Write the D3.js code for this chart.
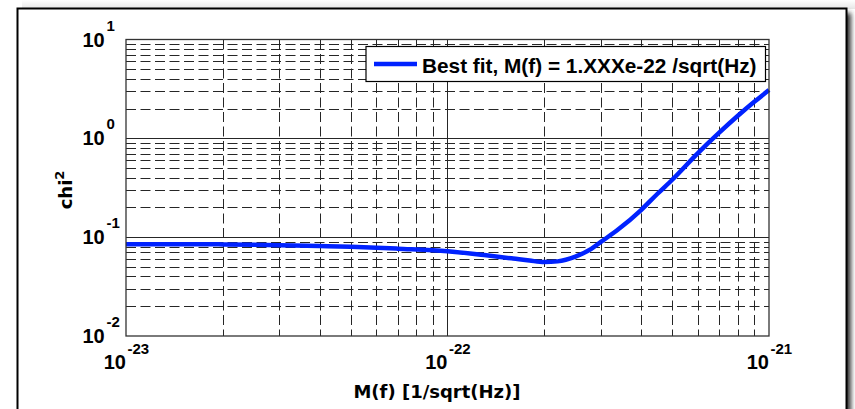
<!DOCTYPE html>
<html>
<head>
<meta charset="utf-8">
<script src="https://cdn.jsdelivr.net/npm/d3@7"></script>
<style>
  html, body { margin: 0; padding: 0; background: #ffffff; }
  svg { display: block; font-family: "Liberation Sans", Arial, sans-serif; font-weight: bold; }
  .title { font-family: "DejaVu Sans", Verdana, sans-serif; }
</style>
</head>
<body>
<svg id="chart" width="855" height="409"></svg>
<script>
// Mass parameter M(f) in 1/sqrt(Hz)
const massValues = [1e-23, 1.5e-23, 2e-23, 3e-23, 4e-23, 5e-23, 7e-23, 1e-22, 1.3e-22, 1.6e-22,
  1.8e-22, 2e-22, 2.2e-22, 2.5e-22, 2.8e-22, 3e-22, 3.4e-22, 4e-22, 4.5e-22, 5e-22,
  6e-22, 7e-22, 8e-22, 9e-22, 1e-21];
// chi^2 of the fit at each mass value
const chi2Values = [0.085, 0.085, 0.0845, 0.083, 0.0815, 0.080, 0.0765, 0.0722, 0.0659, 0.0608,
  0.0580, 0.0560, 0.0569, 0.0636, 0.0762, 0.0895, 0.120, 0.188, 0.275, 0.381,
  0.704, 1.14, 1.69, 2.34, 3.08];
const xTickExponents = [-23, -22, -21];
const yTickExponents = [-2, -1, 0, 1];
const legendLabel = "Best fit, M(f) = 1.XXXe-22 /sqrt(Hz)";
const xAxisLabel = "M(f) [1/sqrt(Hz)]";
const yAxisLabel = "chi";
const yAxisLabelSup = "2";

const svg = d3.select("#chart");
const W = 855, H = 409;
const plot = { left: 126, top: 39.5, right: 769, bottom: 336 };

// drop shadow behind the frame
const defs = svg.append("defs");
const blur = defs.append("filter").attr("id", "shadow").attr("x", "-5%").attr("y", "-5%").attr("width", "110%").attr("height", "110%");
blur.append("feGaussianBlur").attr("stdDeviation", 2.5);
const topGrad = defs.append("linearGradient").attr("id", "topfade").attr("x1", 0).attr("y1", 0).attr("x2", 0).attr("y2", 1);
topGrad.append("stop").attr("offset", 0).attr("stop-color", "#ffffff");
topGrad.append("stop").attr("offset", 1).attr("stop-color", "#e6e6e6");

svg.append("rect").attr("x", 22).attr("y", 0).attr("width", W - 22).attr("height", 9).attr("fill", "url(#topfade)");
svg.append("rect").attr("x", 22).attr("y", 13).attr("width", 829).attr("height", 420)
  .attr("fill", "#333").attr("filter", "url(#shadow)");
svg.append("rect").attr("x", 17.5).attr("y", 8.5).attr("width", 829).attr("height", 420)
  .attr("fill", "#fff").attr("stroke", "#000").attr("stroke-width", 2);

const x = d3.scaleLog().domain([1e-23, 1e-21]).range([plot.left, plot.right]);
const y = d3.scaleLog().domain([1e-2, 1e1]).range([plot.bottom, plot.top]);

const g = svg.append("g");
const gridColor = "#262626";

// minor and major grid values
const xMinor = [], xMajor = [];
for (let e = -23; e < -21; e++) for (let m = 2; m <= 9; m++) xMinor.push(m * Math.pow(10, e));
for (let e = -22; e < -21; e++) xMajor.push(Math.pow(10, e));
const yMinor = [], yMajor = [];
for (let e = -2; e < 1; e++) for (let m = 2; m <= 9; m++) yMinor.push(m * Math.pow(10, e));
for (let e = -1; e <= 0; e++) yMajor.push(Math.pow(10, e));

g.selectAll(".xminor").data(xMinor).join("line")
  .attr("x1", d => Math.round(x(d)) + 0.5).attr("x2", d => Math.round(x(d)) + 0.5)
  .attr("y1", plot.top).attr("y2", plot.bottom)
  .attr("stroke", gridColor).attr("stroke-width", 1).attr("stroke-dasharray", "10,4.5");
g.selectAll(".yminor").data(yMinor).join("line")
  .attr("y1", d => Math.round(y(d)) + 0.5).attr("y2", d => Math.round(y(d)) + 0.5)
  .attr("x1", plot.left).attr("x2", plot.right)
  .attr("stroke", gridColor).attr("stroke-width", 1).attr("stroke-dasharray", "10,4.5");
g.selectAll(".xmajor").data(xMajor).join("line")
  .attr("x1", d => Math.round(x(d)) + 0.5).attr("x2", d => Math.round(x(d)) + 0.5)
  .attr("y1", plot.top).attr("y2", plot.bottom)
  .attr("stroke", gridColor).attr("stroke-width", 1);
g.selectAll(".ymajor").data(yMajor).join("line")
  .attr("y1", d => Math.round(y(d)) + 0.5).attr("y2", d => Math.round(y(d)) + 0.5)
  .attr("x1", plot.left).attr("x2", plot.right)
  .attr("stroke", gridColor).attr("stroke-width", 1);

// inward ticks on all four sides
const tickG = svg.append("g").attr("stroke", gridColor).attr("stroke-width", 1);
xMinor.concat(xMajor).forEach(d => {
  const len = xMajor.includes(d) ? 7 : 4;
  const px = Math.round(x(d)) + 0.5;
  tickG.append("line").attr("x1", px).attr("x2", px).attr("y1", plot.bottom).attr("y2", plot.bottom - len);
  tickG.append("line").attr("x1", px).attr("x2", px).attr("y1", plot.top).attr("y2", plot.top + len);
});
yMinor.concat(yMajor).forEach(d => {
  const len = yMajor.includes(d) ? 7 : 4;
  const py = Math.round(y(d)) + 0.5;
  tickG.append("line").attr("y1", py).attr("y2", py).attr("x1", plot.left).attr("x2", plot.left + len);
  tickG.append("line").attr("y1", py).attr("y2", py).attr("x1", plot.right).attr("x2", plot.right - len);
});

// curve
const line = d3.line().x((d, i) => x(massValues[i])).y(d => y(d)).curve(d3.curveMonotoneX);
svg.append("path").datum(chi2Values).attr("d", line)
  .attr("fill", "none").attr("stroke", "#0022ff").attr("stroke-width", 4.5).attr("stroke-linejoin", "round");

// axes box
svg.append("rect").attr("x", plot.left).attr("y", plot.top)
  .attr("width", plot.right - plot.left).attr("height", plot.bottom - plot.top)
  .attr("fill", "none").attr("stroke", "#333").attr("stroke-width", 1.3);

// tick labels
const lab = svg.append("g").attr("fill", "#000");
xTickExponents.forEach(e => {
  const px = x(Math.pow(10, e));
  lab.append("text").attr("x", px).attr("y", 369).attr("text-anchor", "end")
    .attr("font-size", 20).text("10");
  lab.append("text").attr("x", px + 1.5).attr("y", 354).attr("text-anchor", "start")
    .attr("font-size", 15).text(String(e));
});
yTickExponents.forEach(e => {
  const py = y(Math.pow(10, e));
  lab.append("text").attr("x", 82.5).attr("y", py + 7).attr("font-size", 20).text("10");
  lab.append("text").attr("x", 106.5).attr("y", py - 9).attr("font-size", 15).text(String(e));
});

// axis titles
svg.append("text").attr("class", "title").attr("x", 437).attr("y", 398).attr("text-anchor", "middle")
  .attr("font-size", 18).text(xAxisLabel);
const yt = svg.append("text").attr("class", "title").attr("transform", "translate(72,190) rotate(-90)")
  .attr("text-anchor", "middle").attr("font-size", 18);
yt.append("tspan").text(yAxisLabel);
yt.append("tspan").attr("dy", -8).attr("font-size", 13).text(yAxisLabelSup);

// legend
const leg = svg.append("g");
leg.append("rect").attr("x", 366).attr("y", 46.5).attr("width", 399.5).attr("height", 35)
  .attr("fill", "#fff").attr("stroke", "#000").attr("stroke-width", 1.2);
leg.append("line").attr("x1", 374).attr("x2", 417).attr("y1", 64).attr("y2", 64)
  .attr("stroke", "#0022ff").attr("stroke-width", 4.5);
leg.append("text").attr("x", 422).attr("y", 72.5).attr("font-size", 20.8).text(legendLabel);
</script>
</body>
</html>
